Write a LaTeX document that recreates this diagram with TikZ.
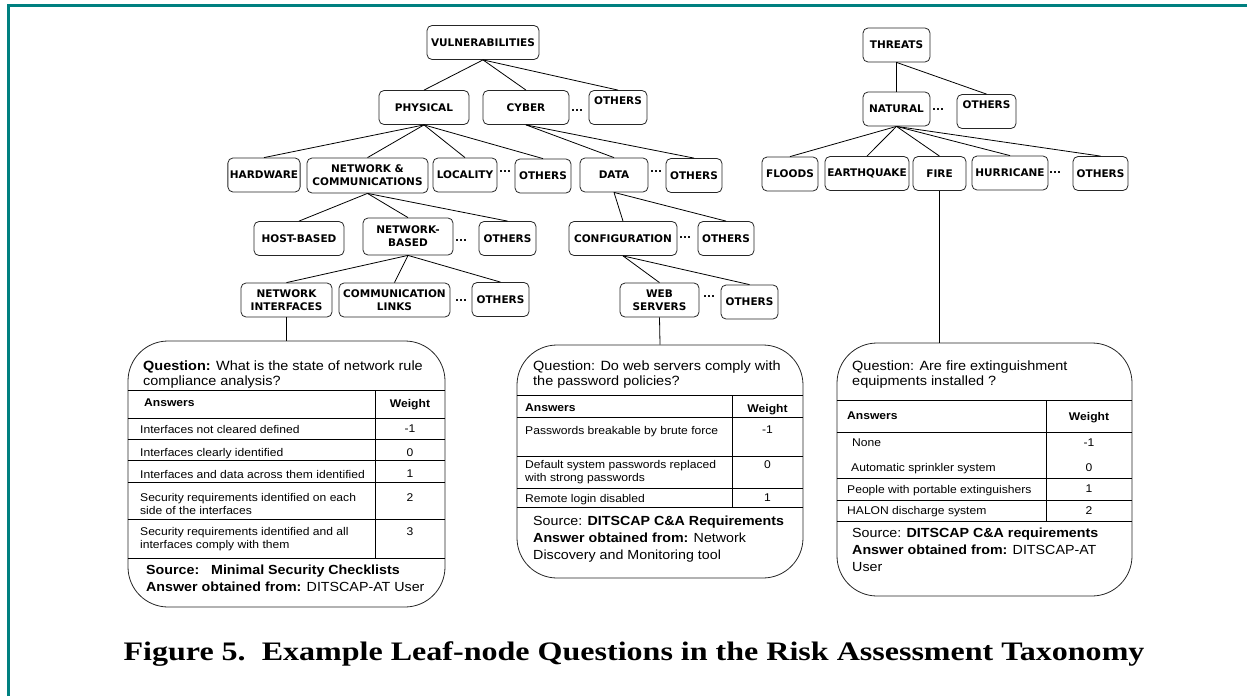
\documentclass[tikz,border=0pt]{standalone}
\usepackage{fontspec}
\setmainfont{Liberation Sans}[FakeStretch=1.08]
\newfontfamily\treefont{DejaVu Sans}
\newfontfamily\capfont{Liberation Serif}[FakeStretch=1.2]

\tikzset{
  tnode/.style={draw=black!85,line width=0.8pt,rounded corners=5pt,align=center,
    minimum height=34pt,inner sep=2pt,font=\treefont\bfseries\fontsize{10.5}{13}\selectfont},
  toptext/.style={text depth=13pt},
  more/.style={inner sep=0pt,font=\treefont\bfseries\fontsize{10.5}{13}\selectfont},
  link/.style={line width=0.8pt},
  qbox/.style={draw=black!85,line width=0.8pt,rounded corners=40pt},
  tabline/.style={line width=0.8pt},
  qtext/.style={anchor=north west,inner sep=0pt,align=left,font=\fontsize{13.4}{15}\selectfont},
  srctext/.style={anchor=north west,inner sep=0pt,align=left,font=\fontsize{13.2}{17}\selectfont},
  cell/.style={anchor=north west,inner sep=0pt,align=left,font=\fontsize{11.2}{13.5}\selectfont},
  wcell/.style={anchor=north,inner sep=0pt,font=\fontsize{11.2}{13.5}\selectfont},
}

\begin{document}
\begin{tikzpicture}[x=1pt,y=-1pt]
\useasboundingbox (0,0) rectangle (1247,696);
\draw[teal,line width=2.7pt] (8.7,696) -- (8.7,5.3) -- (1247,5.3);

% vulnerabilities
\node[tnode,minimum width=112pt] (vuln) at (483,42.5) {VULNERABILITIES};
\node[tnode,minimum width=90pt] (physical) at (424,107.5) {PHYSICAL};
\node[tnode,minimum width=86pt] (cyber) at (526,107.5) {CYBER};
\node[more] (d1) at (577,111) {...};
\node[tnode,toptext,minimum width=58pt] (vothers) at (618,107.5) {OTHERS};

\node[tnode,minimum width=72pt] (hardware) at (264,175) {HARDWARE};
\node[tnode,minimum width=121pt,minimum height=35pt] (netcom) at (367.5,175.5) {NETWORK \&\\COMMUNICATIONS};
\node[tnode,minimum width=64pt] (locality) at (465,175) {LOCALITY};
\node[more] (d2) at (505,172) {...};
\node[tnode,minimum width=56pt] (pothers) at (543,176) {OTHERS};
\node[tnode,minimum width=68pt] (data) at (614,175) {DATA};
\node[more] (d3) at (656,172) {...};
\node[tnode,minimum width=56pt] (cothers) at (694,175.5) {OTHERS};

\node[tnode,minimum width=90pt] (hostbased) at (299,238.5) {HOST-BASED};
\node[tnode,minimum width=90pt,minimum height=37pt] (netbased) at (408,236.5) {NETWORK-\\BASED};
\node[more] (d4) at (461,241) {...};
\node[tnode,minimum width=57pt] (ncothers) at (507.5,238.5) {OTHERS};
\node[tnode,minimum width=108pt] (config) at (623,238.5) {CONFIGURATION};
\node[more] (d5) at (685,238) {...};
\node[tnode,minimum width=56pt] (dothers) at (726,238.5) {OTHERS};

\node[tnode,minimum width=91pt] (netif) at (286.5,300) {NETWORK\\INTERFACES};
\node[tnode,minimum width=111pt] (commlinks) at (394.5,300) {COMMUNICATION\\LINKS};
\node[more] (d6) at (461,301) {...};
\node[tnode,minimum width=57pt] (nbothers) at (500.5,299.5) {OTHERS};
\node[tnode,minimum width=79pt] (websrv) at (659.5,300) {WEB\\SERVERS};
\node[more] (d7) at (709,297) {...};
\node[tnode,minimum width=57pt] (cfothers) at (749.5,302) {OTHERS};

% threats
\node[tnode,minimum width=67pt] (threats) at (896.5,45) {THREATS};
\node[tnode,minimum width=67pt] (natural) at (896.5,109) {NATURAL};
\node[more] (d8) at (938,110) {...};
\node[tnode,toptext,minimum width=59pt] (tothers) at (986.5,111.5) {OTHERS};
\node[tnode,minimum width=56pt] (floods) at (790,174) {FLOODS};
\node[tnode,minimum width=84pt] (quake) at (867,173.5) {EARTHQUAKE};
\node[tnode,minimum width=53pt] (fire) at (939.5,173.5) {FIRE};
\node[tnode,minimum width=76pt] (hurricane) at (1010,173) {HURRICANE};
\node[more] (d9) at (1055,173) {...};
\node[tnode,minimum width=55pt] (fothers) at (1100.5,173.5) {OTHERS};

% question 1
\node[qbox,minimum width=317pt,minimum height=266pt] (q1) at (286.5,474) {};
\node[qtext] (q1q) at (143,360.1) {\textbf{Question:} What is the state of network rule\\compliance analysis?};
\foreach \yy in {390,418,439,460,482,519,558}
  \draw[tabline] (q1.west |- 0,\yy) -- (q1.east |- 0,\yy);
\draw[tabline] (375,390) -- (375,558);
\node[cell] (q1a) at (144,399) {\textbf{Answers}};
\node[wcell] (q1w) at (410,399) {\textbf{Weight}};
\foreach \yy/\ans/\wt [count=\i] in {425/{Interfaces not cleared defined}/-1,
    448/{Interfaces clearly identified}/0,
    470/{Interfaces and data across them identified}/1,
    493/{Security requirements identified on each\\side of the interfaces}/2,
    527/{Security requirements identified and all\\interfaces comply with them}/3}{
  \node[cell] (q1a-\i) at (140,\yy) {\ans};
  \node[wcell] (q1w-\i) at (410,\yy) {\wt};
}
\node[srctext] (q1s) at (146,565.2) {\textbf{Source:\ \ \ Minimal Security Checklists}\\\textbf{Answer obtained from:} DITSCAP-AT User};

% question 2
\node[qbox,minimum width=286pt,minimum height=233pt] (q2) at (660,461.5) {};
\node[qtext] (q2q) at (533,360.1) {Question: Do web servers comply with\\the password policies?};
\foreach \yy in {395,417,456,488,507}
  \draw[tabline] (q2.west |- 0,\yy) -- (q2.east |- 0,\yy);
\draw[tabline] (732,395) -- (732,507);
\node[cell] (q2a) at (525,404) {\textbf{Answers}};
\node[wcell] (q2w) at (767.5,404) {\textbf{Weight}};
\foreach \yy/\ans/\wt [count=\i] in {426/{Passwords breakable by brute force}/-1,
    460/{Default system passwords replaced\\with strong passwords}/0,
    494/{Remote login disabled}/1}{
  \node[cell] (q2a-\i) at (525,\yy) {\ans};
  \node[wcell] (q2w-\i) at (767.5,\yy) {\wt};
}
\node[srctext] (q2s) at (533,516.2) {Source: \textbf{DITSCAP C\&A Requirements}\\\textbf{Answer obtained from:} Network\\Discovery and Monitoring tool};

% question 3
\node[qbox,minimum width=295pt,minimum height=253pt] (q3) at (984.5,469.5) {};
\node[qtext] (q3q) at (852,360.1) {Question: Are fire extinguishment\\equipments installed ?};
\foreach \yy in {400,432,478,500,521}
  \draw[tabline] (q3.west |- 0,\yy) -- (q3.east |- 0,\yy);
\draw[tabline] (1046,400) -- (1046,521);
\node[cell] (q3a) at (847,412) {\textbf{Answers}};
\node[wcell] (q3w) at (1089,412) {\textbf{Weight}};
\foreach \xx/\yy/\ans/\wt [count=\i] in {852/439/None/-1,
    851/463/{Automatic sprinkler system}/0,
    847/485/{People with portable extinguishers}/1,
    847/506/{HALON discharge system}/2}{
  \node[cell] (q3a-\i) at (\xx,\yy) {\ans};
  \node[wcell] (q3w-\i) at (1089,\yy) {\wt};
}
\node[srctext] (q3s) at (852,528.2) {Source: \textbf{DITSCAP C\&A requirements}\\\textbf{Answer obtained from:} DITSCAP-AT\\User};

% connectors
\foreach \a/\b in {vuln/physical,vuln/cyber,vuln/vothers,
    physical/hardware,physical/netcom,physical/locality,physical/pothers,
    cyber/data,cyber/cothers,netcom/hostbased,netcom/netbased,netcom/ncothers,
    netbased/netif,netbased/commlinks,netbased/nbothers,data/config,data/dothers,
    config/websrv,config/cfothers,threats/natural,threats/tothers,
    natural/floods,natural/quake,natural/fire,natural/hurricane,natural/fothers,
    netif/q1,websrv/q2}
  \draw[link] (\a.south) -- (\b.north);
\draw[link] (fire.south) -- (fire.south |- q3.north);

\node[font=\capfont\bfseries\fontsize{26.7}{30}\selectfont,anchor=base] (caption) at (634,660)
  {Figure 5.\ \ Example Leaf-node Questions in the Risk Assessment Taxonomy};
\end{tikzpicture}
\end{document}
